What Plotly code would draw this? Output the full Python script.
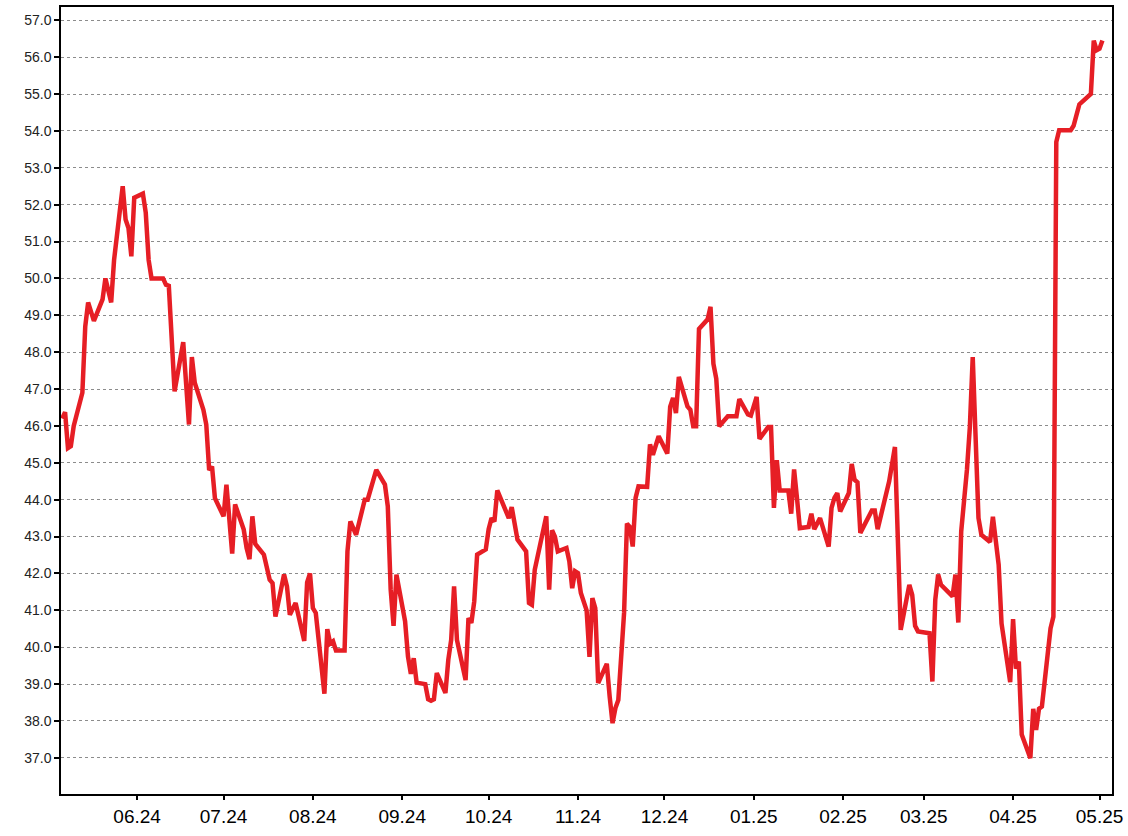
import plotly.graph_objects as go

dates = [
    "2024-05-06", "2024-05-07", "2024-05-08", "2024-05-09", "2024-05-10", "2024-05-13", "2024-05-14",
    "2024-05-15", "2024-05-17", "2024-05-20", "2024-05-21", "2024-05-23", "2024-05-24", "2024-05-25",
    "2024-05-27", "2024-05-28", "2024-05-29", "2024-05-30", "2024-05-31", "2024-06-03", "2024-06-04",
    "2024-06-05", "2024-06-06", "2024-06-10", "2024-06-11", "2024-06-12", "2024-06-14", "2024-06-17",
    "2024-06-19", "2024-06-20", "2024-06-21", "2024-06-24", "2024-06-25", "2024-06-26", "2024-06-27",
    "2024-06-28", "2024-07-01", "2024-07-02", "2024-07-04", "2024-07-05", "2024-07-08", "2024-07-09",
    "2024-07-10", "2024-07-11", "2024-07-12", "2024-07-15", "2024-07-17", "2024-07-18", "2024-07-19",
    "2024-07-22", "2024-07-23", "2024-07-24", "2024-07-26", "2024-07-29", "2024-07-30", "2024-07-31",
    "2024-08-01", "2024-08-02", "2024-08-05", "2024-08-06", "2024-08-07", "2024-08-08", "2024-08-09",
    "2024-08-12", "2024-08-13", "2024-08-14", "2024-08-16", "2024-08-19", "2024-08-20", "2024-08-23",
    "2024-08-26", "2024-08-27", "2024-08-28", "2024-08-29", "2024-08-30", "2024-09-02", "2024-09-03",
    "2024-09-04", "2024-09-05", "2024-09-06", "2024-09-09", "2024-09-10", "2024-09-11", "2024-09-12",
    "2024-09-13", "2024-09-16", "2024-09-17", "2024-09-18", "2024-09-19", "2024-09-20", "2024-09-23",
    "2024-09-24", "2024-09-25", "2024-09-26", "2024-09-27", "2024-09-30", "2024-10-01", "2024-10-02",
    "2024-10-03", "2024-10-04", "2024-10-08", "2024-10-09", "2024-10-11", "2024-10-14", "2024-10-15",
    "2024-10-16", "2024-10-17", "2024-10-19", "2024-10-21", "2024-10-22", "2024-10-23", "2024-10-24",
    "2024-10-25", "2024-10-28", "2024-10-29", "2024-10-30", "2024-10-31", "2024-11-01", "2024-11-02",
    "2024-11-04", "2024-11-05", "2024-11-06", "2024-11-07", "2024-11-08", "2024-11-11", "2024-11-12",
    "2024-11-13", "2024-11-14", "2024-11-15", "2024-11-17", "2024-11-18", "2024-11-19", "2024-11-20",
    "2024-11-21", "2024-11-22", "2024-11-25", "2024-11-26", "2024-11-27", "2024-11-29", "2024-12-02",
    "2024-12-03", "2024-12-04", "2024-12-05", "2024-12-06", "2024-12-09", "2024-12-10", "2024-12-11",
    "2024-12-12", "2024-12-13", "2024-12-16", "2024-12-17", "2024-12-18", "2024-12-19", "2024-12-20",
    "2024-12-23", "2024-12-26", "2024-12-27", "2024-12-30", "2024-12-31", "2025-01-02", "2025-01-03",
    "2025-01-06", "2025-01-07", "2025-01-08", "2025-01-09", "2025-01-10", "2025-01-13", "2025-01-14",
    "2025-01-15", "2025-01-16", "2025-01-17", "2025-01-20", "2025-01-21", "2025-01-22", "2025-01-24",
    "2025-01-27", "2025-01-28", "2025-01-29", "2025-01-30", "2025-01-31", "2025-02-03", "2025-02-04",
    "2025-02-05", "2025-02-06", "2025-02-07", "2025-02-11", "2025-02-12", "2025-02-13", "2025-02-17",
    "2025-02-19", "2025-02-20", "2025-02-21", "2025-02-23", "2025-02-24", "2025-02-25", "2025-02-26",
    "2025-02-27", "2025-03-03", "2025-03-04", "2025-03-05", "2025-03-06", "2025-03-07", "2025-03-11",
    "2025-03-12", "2025-03-13", "2025-03-14", "2025-03-16", "2025-03-17", "2025-03-18", "2025-03-19",
    "2025-03-20", "2025-03-21", "2025-03-24", "2025-03-25", "2025-03-27", "2025-03-28", "2025-03-31",
    "2025-04-01", "2025-04-02", "2025-04-03", "2025-04-04", "2025-04-07", "2025-04-08", "2025-04-09",
    "2025-04-10", "2025-04-11", "2025-04-13", "2025-04-14", "2025-04-15", "2025-04-16", "2025-04-17",
    "2025-04-21", "2025-04-22", "2025-04-24", "2025-04-28", "2025-04-29", "2025-04-30", "2025-05-01",
    "2025-05-02",
]

values = [
    46.2, 46.37, 45.4, 45.45, 46.0, 46.9, 48.7,
    49.35, 48.85, 49.43, 50.0, 49.35, 50.5, 51.15,
    52.5, 51.6, 51.37, 50.6, 52.19, 52.3, 51.78,
    50.5, 50.0, 50.0, 49.83, 49.8, 46.94, 48.27,
    46.04, 47.87, 47.17, 46.44, 46.04, 44.8, 44.9,
    44.04, 43.55, 44.41, 42.54, 43.87, 43.19, 42.69,
    42.39, 43.55, 42.8, 42.51, 41.83, 41.74, 40.83,
    41.97, 41.65, 40.88, 41.2, 40.17, 41.76, 42.0,
    41.06, 40.93, 38.74, 40.49, 40.1, 40.16, 39.91,
    39.91, 42.6, 43.41, 43.05, 44.0, 44.0, 44.81,
    44.41, 43.82, 41.56, 40.58, 41.97, 40.7, 39.75,
    39.28, 39.7, 39.04, 39.0, 38.59, 38.55, 38.59,
    39.3, 38.76, 39.66, 40.2, 41.65, 40.2, 39.11,
    40.79, 40.66, 41.24, 42.51, 42.65, 43.2, 43.5,
    43.41, 44.25, 43.5, 43.8, 42.92, 42.6, 41.2,
    41.15, 42.1, 42.83, 43.55, 41.56, 43.17, 43.0,
    42.6, 42.69, 42.33, 41.6, 42.06, 42.01, 41.47,
    41.0, 39.74, 41.33, 41.06, 39.03, 39.55, 38.66,
    37.94, 38.35, 38.57, 40.93, 43.35, 43.26, 42.73,
    44.05, 44.36, 44.35, 45.5, 45.22, 45.72, 45.25,
    46.52, 46.76, 46.35, 47.33, 46.53, 46.44, 45.99,
    45.99, 48.63, 48.89, 49.23, 47.69, 47.28, 45.99,
    46.26, 46.26, 46.73, 46.31, 46.28, 46.79, 45.65,
    45.97, 45.97, 43.78, 45.07, 44.25, 44.25, 43.62,
    44.82, 44.05, 43.23, 43.26, 43.62, 43.2, 43.5,
    42.73, 43.78, 44.05, 44.18, 43.68, 44.18, 44.97,
    44.54, 44.47, 43.1, 43.71, 43.71, 43.2, 44.5,
    45.43, 42.9, 40.47, 41.29, 41.69, 41.42, 40.58,
    40.43, 40.38, 39.07, 41.29, 41.97, 41.69, 41.38,
    41.97, 40.67, 43.14, 44.82, 45.97, 47.87, 45.2,
    43.5, 43.05, 42.85, 43.54, 42.24, 40.64, 39.05,
    40.76, 39.42, 39.61, 37.63, 36.99, 38.33, 37.76,
    38.33, 38.39, 39.74, 40.51, 40.83, 53.7, 54.02,
    54.02, 54.14, 54.72, 55.0, 56.45, 56.19, 56.23,
    56.45,
]

x_range = ["2024-05-05 14:00", "2025-05-05 08:00"]
y_range = [36.02, 57.36]

fig = go.Figure(
    go.Scatter(
        x=dates,
        y=values,
        mode="lines",
        line=dict(color="#E61E25", width=4.5),
        hoverinfo="x+y",
    )
)

font_family = "Liberation Sans, Arial, sans-serif"

fig.update_layout(
    width=1128,
    height=836,
    margin=dict(l=61, r=16, t=7, b=42, autoexpand=False),
    paper_bgcolor="white",
    plot_bgcolor="white",
    showlegend=False,
    font=dict(family=font_family, color="black"),
)

fig.update_xaxes(
    type="date",
    range=x_range,
    automargin=False,
    tick0="2024-06-01",
    dtick="M1",
    tickformat="%m.%y",
    ticks="outside",
    ticklen=4,
    tickwidth=1.5,
    tickcolor="black",
    showline=True,
    linecolor="black",
    linewidth=1.5,
    mirror=True,
    showgrid=False,
    zeroline=False,
    tickfont=dict(size=19, family=font_family, color="black"),
)

fig.update_yaxes(
    range=y_range,
    automargin=False,
    tick0=37,
    dtick=1,
    tickformat=".1f",
    ticks="outside",
    ticklen=5,
    tickwidth=1.5,
    tickcolor="black",
    showline=True,
    linecolor="black",
    linewidth=1.5,
    mirror=True,
    showgrid=True,
    gridcolor="#8c8c8c",
    gridwidth=1,
    griddash="dot",
    zeroline=False,
    tickfont=dict(size=14, family=font_family, color="#222222"),
)

fig.write_html(
    "out.html",
    config={"displayModeBar": False},
    post_script="document.body.style.margin='0';document.body.style.overflow='hidden';",
)
